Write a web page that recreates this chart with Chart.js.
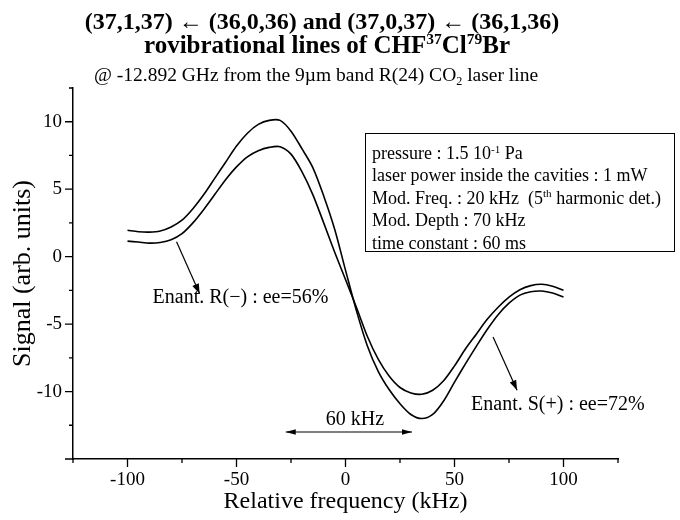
<!DOCTYPE html>
<html>
<head>
<meta charset="utf-8">
<script src="https://cdn.jsdelivr.net/npm/chart.js@4.4.1/dist/chart.umd.min.js"></script>
<style>
  html, body { margin: 0; padding: 0; background: #fff; }
</style>
</head>
<body>
<canvas id="spectre" width="680" height="520"></canvas>
<script>
// relative frequency (kHz)
const freq = [-100, -95, -90, -85, -80, -75, -70, -65, -60, -55, -50, -45, -40, -35, -30, -25, -20, -15, -10, -5,
              0, 5, 10, 15, 20, 25, 30, 35, 40, 45, 50, 55, 60, 65, 70, 75, 80, 85, 90, 95, 100];

// signal (arb. units)
const signalS = [1.95, 1.85, 1.82, 1.9, 2.2, 2.7, 3.55, 4.6, 5.8, 7.0, 8.2, 9.15, 9.8, 10.1, 10.1, 9.3, 8.0, 6.6, 4.5, 2.05,
                 -1.0, -4.0, -6.6, -8.5, -9.85, -10.9, -11.7, -12.0, -11.7, -10.7, -9.3, -7.95, -6.65, -5.4, -4.3, -3.45, -2.85, -2.6, -2.55, -2.7, -3.0];
const signalR = [1.15, 1.08, 1.0, 1.05, 1.25, 1.7, 2.5, 3.5, 4.6, 5.7, 6.65, 7.4, 7.85, 8.1, 8.15, 7.6, 6.3, 4.6, 2.5, 0.35,
                 -1.7, -3.75, -5.9, -7.6, -8.85, -9.7, -10.1, -10.2, -9.9, -9.2, -8.1, -6.85, -5.75, -4.65, -3.75, -3.0, -2.45, -2.15, -2.05, -2.2, -2.5];

const labelTicksX = [-100, -50, 0, 50, 100];
const minorTicksX = [-125, -75, -25, 25, 75, 125];
const labelTicksY = [-10, -5, 0, 5, 10];
const majorTicksY = [-15, -10, -5, 0, 5, 10];
const minorTicksY = [-12.5, -7.5, -2.5, 2.5, 7.5, 12.5];

const serif = '"Liberation Serif", "Times New Roman", serif';

function richWidth(ctx, parts, size, weight) {
    let w = 0;
    parts.forEach(([txt, mode]) => {
        ctx.font = weight + ' ' + (mode ? size * 0.62 : size) + 'px ' + serif;
        w += ctx.measureText(txt).width;
    });
    return w;
}

function drawRich(ctx, parts, x, y, size, weight, align) {
    let cx = align === 'center' ? x - richWidth(ctx, parts, size, weight) / 2 : x;
    ctx.textAlign = 'left';
    parts.forEach(([txt, mode]) => {
        const s = mode ? size * 0.62 : size;
        const dy = mode === 'sup' ? -size * 0.36 : (mode === 'sub' ? size * 0.2 : 0);
        ctx.font = weight + ' ' + s + 'px ' + serif;
        ctx.fillText(txt, cx, y + dy);
        cx += ctx.measureText(txt).width;
    });
}

function arrowHead(ctx, x1, y1, x2, y2, len, half) {
    const a = Math.atan2(y2 - y1, x2 - x1);
    const c = Math.cos(a), s = Math.sin(a);
    ctx.beginPath();
    ctx.moveTo(x2, y2);
    ctx.lineTo(x2 - len * c + half * s, y2 - len * s - half * c);
    ctx.lineTo(x2 - len * c - half * s, y2 - len * s + half * c);
    ctx.closePath();
    ctx.fill();
}

function arrow(ctx, x1, y1, x2, y2, len, half, both) {
    ctx.beginPath();
    ctx.moveTo(x1, y1);
    ctx.lineTo(x2, y2);
    ctx.stroke();
    arrowHead(ctx, x1, y1, x2, y2, len, half);
    if (both) arrowHead(ctx, x2, y2, x1, y1, len, half);
}

const habillage = {
    id: 'habillage',
    afterDraw(chart) {
        const ctx = chart.ctx;
        const sx = chart.scales.x, sy = chart.scales.y;
        const area = chart.chartArea;
        ctx.save();
        ctx.strokeStyle = '#000';
        ctx.fillStyle = '#000';
        ctx.lineWidth = 1.3;

        // tick marks, major and minor
        ctx.beginPath();
        labelTicksX.forEach(v => { const p = sx.getPixelForValue(v); ctx.moveTo(p, area.bottom); ctx.lineTo(p, area.bottom + 8); });
        minorTicksX.forEach(v => { const p = sx.getPixelForValue(v); ctx.moveTo(p, area.bottom); ctx.lineTo(p, area.bottom + 4); });
        majorTicksY.forEach(v => { const p = sy.getPixelForValue(v); ctx.moveTo(area.left, p); ctx.lineTo(area.left - 8, p); });
        minorTicksY.forEach(v => { const p = sy.getPixelForValue(v); ctx.moveTo(area.left, p); ctx.lineTo(area.left - 4, p); });
        ctx.stroke();

        // titles
        ctx.textBaseline = 'alphabetic';
        drawRich(ctx, [['(37,1,37) \u2190 (36,0,36) and (37,0,37) \u2190 (36,1,36)', '']], 322, 29, 24, 'bold', 'center');
        drawRich(ctx, [['rovibrational lines of CHF', ''], ['37', 'sup'], ['Cl', ''], ['79', 'sup'], ['Br', '']], 327, 53, 25, 'bold', 'center');
        drawRich(ctx, [['@ -12.892 GHz from the 9\u00b5m band R(24) CO', ''], ['2', 'sub'], [' laser line', '']], 316, 81, 19.5, 'normal', 'center');

        // parameter box
        ctx.lineWidth = 1;
        ctx.strokeRect(365.5, 133.5, 309, 118);
        const lignes = [
            [['pressure : 1.5 10', ''], ['-1', 'sup'], [' Pa', '']],
            [['laser power inside the cavities : 1 mW', '']],
            [['Mod. Freq. : 20 kHz  (5', ''], ['th', 'sup'], [' harmonic det.)', '']],
            [['Mod. Depth : 70 kHz', '']],
            [['time constant : 60 ms', '']]
        ];
        lignes.forEach((l, i) => drawRich(ctx, l, 372, 159 + i * 22.4, 18, 'normal', 'left'));

        // annotations
        ctx.lineWidth = 1.2;
        arrow(ctx, sx.getPixelForValue(-77.5), sy.getPixelForValue(1.1), sx.getPixelForValue(-66.9), sy.getPixelForValue(-2.75), 10, 3.5, false);
        arrow(ctx, sx.getPixelForValue(67.7), sy.getPixelForValue(-5.95), sx.getPixelForValue(78.7), sy.getPixelForValue(-9.9), 10, 3.5, false);
        arrow(ctx, sx.getPixelForValue(-27.4), sy.getPixelForValue(-13.0), sx.getPixelForValue(30.5), sy.getPixelForValue(-13.0), 10, 2.8, true);

        ctx.textBaseline = 'middle';
        drawRich(ctx, [['Enant. R(\u2212) : ee=56%', '']], sx.getPixelForValue(-88.5), sy.getPixelForValue(-3.07), 20, 'normal', 'left');
        drawRich(ctx, [['Enant. S(+) : ee=72%', '']], sx.getPixelForValue(57.6), sy.getPixelForValue(-11.0), 20, 'normal', 'left');
        drawRich(ctx, [['60 kHz', '']], sx.getPixelForValue(4.3), sy.getPixelForValue(-12.1), 20, 'normal', 'center');
        ctx.restore();
    }
};

function drawSpectre(canvasId) {
    const ctx = document.getElementById(canvasId).getContext('2d');

    new Chart(ctx, {
        type: 'line',
        data: {
            datasets: [{
                label: 'Enant. S(+)',
                data: freq.map((f, i) => ({ x: f, y: signalS[i] })),
                borderColor: '#000',
                borderWidth: 1.6,
                pointRadius: 0,
                fill: false,
                tension: 0.3
            }, {
                label: 'Enant. R(\u2212)',
                data: freq.map((f, i) => ({ x: f, y: signalR[i] })),
                borderColor: '#000',
                borderWidth: 1.6,
                pointRadius: 0,
                fill: false,
                tension: 0.3
            }]
        },
        options: {
            responsive: false,
            animation: false,
            layout: { padding: { top: 88, right: 62, left: 0, bottom: 0 } },
            plugins: {
                legend: { display: false },
                tooltip: { enabled: false }
            },
            scales: {
                x: {
                    type: 'linear',
                    min: -125,
                    max: 125,
                    afterBuildTicks: s => { s.ticks = labelTicksX.map(v => ({ value: v })); },
                    afterFit: s => { s.height = 61; },
                    grid: { display: false, drawTicks: false },
                    border: { display: true, color: '#000', width: 1.5 },
                    ticks: { color: '#000', font: { size: 19, family: serif }, padding: 10, maxRotation: 0, autoSkip: false },
                    title: { display: true, text: 'Relative frequency (kHz)', color: '#000', font: { size: 24, family: serif }, padding: { top: 0, bottom: 4 } }
                },
                y: {
                    min: -15,
                    max: 12.5,
                    afterBuildTicks: s => { s.ticks = labelTicksY.map(v => ({ value: v })); },
                    afterFit: s => { s.width = 73; },
                    grid: { display: false, drawTicks: false },
                    border: { display: true, color: '#000', width: 1.5 },
                    ticks: { color: '#000', font: { size: 19, family: serif }, padding: 11, autoSkip: false },
                    title: { display: true, text: 'Signal (arb. units)', color: '#000', font: { size: 26, family: serif }, padding: { top: 8, bottom: 0 } }
                }
            }
        },
        plugins: [habillage]
    });
}

drawSpectre('spectre');
</script>
</body>
</html>
